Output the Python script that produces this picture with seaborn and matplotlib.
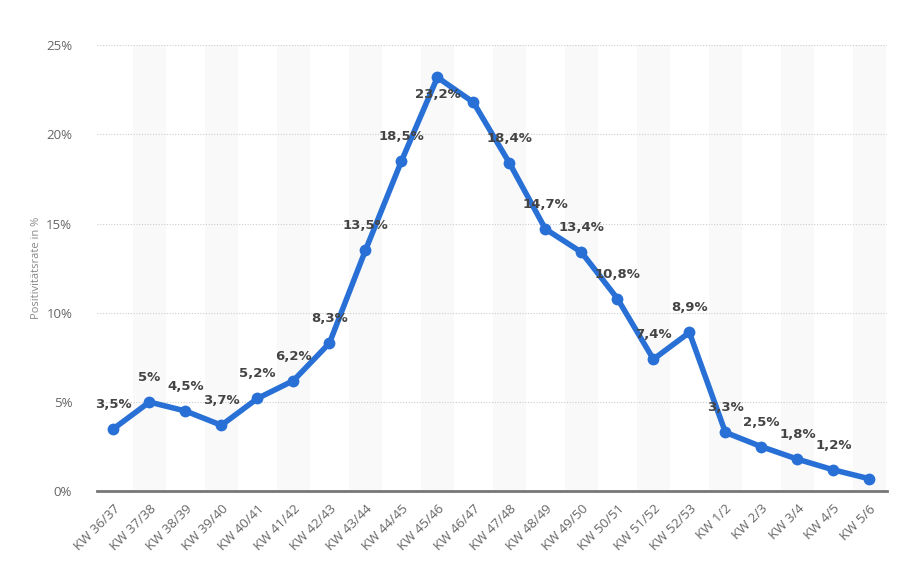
import numpy as np
import pandas as pd
import matplotlib
matplotlib.use('Agg')
import matplotlib.pyplot as plt
import seaborn as sns

weeks = ['KW 36/37', 'KW 37/38', 'KW 38/39', 'KW 39/40', 'KW 40/41', 'KW 41/42',
         'KW 42/43', 'KW 43/44', 'KW 44/45', 'KW 45/46', 'KW 46/47', 'KW 47/48',
         'KW 48/49', 'KW 49/50', 'KW 50/51', 'KW 51/52', 'KW 52/53', 'KW 1/2',
         'KW 2/3', 'KW 3/4', 'KW 4/5', 'KW 5/6']
rate = [3.5, 5.0, 4.5, 3.7, 5.2, 6.2, 8.3, 13.5, 18.5, 23.2, 21.8, 18.4,
        14.7, 13.4, 10.8, 7.4, 8.9, 3.3, 2.5, 1.8, 1.2, 0.7]
# labels as shown in the chart (two points carry none)
labels = ['3,5%', '5%', '4,5%', '3,7%', '5,2%', '6,2%', '8,3%', '13,5%', '18,5%',
          '23,2%', '', '18,4%', '14,7%', '13,4%', '10,8%', '7,4%', '8,9%', '3,3%',
          '2,5%', '1,8%', '1,2%', '']

df = pd.DataFrame({'pos': np.arange(len(weeks)), 'rate': rate})

sns.set_style('white')
plt.rcParams['font.family'] = ['Open Sans', 'DejaVu Sans']

fig = plt.figure(figsize=(9, 5.8), dpi=100)
ax = fig.add_axes([0.108, 0.153, 0.878, 0.769])

# alternating background bands
for i in range(1, len(weeks), 2):
    ax.axvspan(i - 0.45, i + 0.45, color='#f9f9f9', zorder=0, lw=0)

sns.lineplot(data=df, x='pos', y='rate', ax=ax, color='#2870d6', lw=4,
             marker='o', markersize=8.5, markeredgewidth=0, zorder=3)

for i, (v, t) in enumerate(zip(rate, labels)):
    if not t:
        continue
    dy = -8 if v > 23 else 13
    ax.annotate(t, (i, v), xytext=(0, dy), textcoords='offset points',
                ha='center', va='bottom' if dy > 0 else 'top', fontsize=9.5,
                fontweight='bold', color='#444444', family='DejaVu Sans',
                zorder=4, annotation_clip=False)

ax.set_xlim(-0.45, len(weeks) - 0.5)
ax.set_ylim(0, 25)
ax.set_yticks([0, 5, 10, 15, 20, 25])
ax.set_yticklabels(['0%', '5%', '10%', '15%', '20%', '25%'])
ax.set_xticks(df['pos'])
ax.set_xticklabels(weeks, rotation=45, ha='right', rotation_mode='anchor')
ax.tick_params(axis='both', length=0, labelsize=9.5, labelcolor='#666666')
ax.tick_params(axis='y', pad=18)
ax.tick_params(axis='x', pad=8)

ax.grid(axis='y', ls=(0, (1, 1.5)), color='#cccccc', lw=0.8)
ax.set_axisbelow(True)
for s in ['top', 'right', 'left']:
    ax.spines[s].set_visible(False)
ax.spines['bottom'].set_color('#777777')
ax.spines['bottom'].set_linewidth(2)

ax.set_xlabel('')
ax.set_ylabel('Positivitätsrate in %', fontsize=8, color='#888888', labelpad=3)

plt.savefig('out.png', dpi=100)
